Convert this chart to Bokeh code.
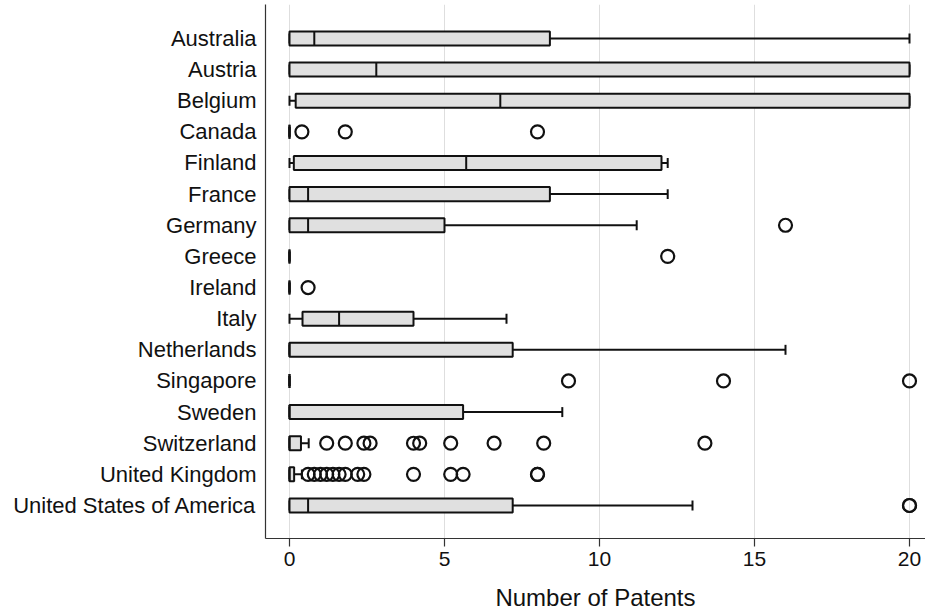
from bokeh.plotting import figure
from bokeh.models import Range1d, FixedTicker, ColumnDataSource
from bokeh.embed import file_html
from bokeh.resources import INLINE

countries = ["Australia", "Austria", "Belgium", "Canada", "Finland", "France",
             "Germany", "Greece", "Ireland", "Italy", "Netherlands", "Singapore",
             "Sweden", "Switzerland", "United Kingdom", "United States of America"]
q1 = [0, 0, 0.2, 0, 0.14, 0, 0, 0, 0, 0.42, 0, 0, 0, 0, 0, 0]
med = [0.8, 2.8, 6.8, 0, 5.7, 0.6, 0.6, 0, 0, 1.6, 0, 0, 0, 0, 0, 0.6]
q3 = [8.4, 20, 20, 0, 12, 8.4, 5, 0, 0, 4, 7.2, 0, 5.6, 0.37, 0.15, 7.2]
lo = [0, 0, 0, 0, 0, 0, 0, 0, 0, 0, 0, 0, 0, 0, 0, 0]
hi = [20, 20, 20, 0, 12.2, 12.2, 11.2, 0, 0, 7, 16, 0, 8.8, 0.62, 0.4, 13]

out_country = (["Canada"] * 3 + ["Germany"] + ["Greece"] + ["Ireland"] +
               ["Singapore"] * 3 + ["Switzerland"] * 10 + ["United Kingdom"] * 14 +
               ["United States of America"] * 2)
out_value = ([0.4, 1.8, 8.0] + [16] + [12.2] + [0.6] + [9, 14, 20] +
             [1.2, 1.8, 2.4, 2.6, 4.0, 4.2, 5.2, 6.6, 8.2, 13.4] +
             [0.6, 0.8, 1.0, 1.2, 1.4, 1.6, 1.8, 2.2, 2.4, 4.0, 5.2, 5.6, 8.0, 8.0] +
             [20, 20])

x_ticks = [0, 5, 10, 15, 20]

n = len(countries)
ypos = [n - i for i in range(n)]
ymap = dict(zip(countries, ypos))

FONT = "Liberation Sans"
INK = "#111111"

p = figure(width=925, height=616, output_backend="svg", toolbar_location=None,
           x_range=Range1d(-0.774, 20.516), y_range=Range1d(-0.06, 17.09),
           min_border_left=265, min_border_right=0, min_border_top=4,
           min_border_bottom=78)
p.outline_line_color = None
p.background_fill_color = "white"
p.border_fill_color = "white"

p.ygrid.grid_line_color = None
p.xgrid.grid_line_color = "#dedede"
p.xgrid.grid_line_width = 1
p.xaxis.ticker = FixedTicker(ticks=x_ticks)
p.yaxis.ticker = FixedTicker(ticks=ypos)
p.yaxis.major_label_overrides = {y: c for c, y in zip(countries, ypos)}

p.yaxis.minor_tick_line_color = None
p.yaxis.major_label_standoff = 3
p.xaxis.minor_tick_line_color = None
p.xaxis.major_tick_out = 8
p.xaxis.major_tick_in = 0
p.xaxis.major_label_standoff = 5
p.xaxis.axis_label = "Number of Patents"
p.xaxis.axis_label_standoff = 15
for ax in (p.xaxis, p.yaxis):
    ax.axis_line_color = "#333333"
    ax.axis_line_width = 1.2
    ax.major_tick_line_width = 1.2
    ax.major_label_text_font = FONT
    ax.major_label_text_color = INK
    ax.axis_label_text_font = FONT
    ax.axis_label_text_font_size = "24px"
    ax.axis_label_text_font_style = "normal"
    ax.axis_label_text_color = INK
p.xaxis.major_tick_line_color = "#333333"
p.yaxis.major_tick_line_color = None
p.yaxis.major_label_text_font_size = "22px"
p.xaxis.major_label_text_font_size = "21px"

src = ColumnDataSource(dict(y=ypos, q1=q1, med=med, q3=q3, lo=lo, hi=hi,
                            ytop=[y + 0.225 for y in ypos], ybot=[y - 0.225 for y in ypos],
                            ctop=[y + 0.16 for y in ypos], cbot=[y - 0.16 for y in ypos]))

# whiskers
p.segment(x0="q3", y0="y", x1="hi", y1="y", source=src, line_color=INK, line_width=2)
p.segment(x0="lo", y0="y", x1="q1", y1="y", source=src, line_color=INK, line_width=2)
p.segment(x0="hi", y0="ctop", x1="hi", y1="cbot", source=src, line_color=INK, line_width=2)
p.segment(x0="lo", y0="ctop", x1="lo", y1="cbot", source=src, line_color=INK, line_width=2)
# boxes
p.hbar(y="y", left="q1", right="q3", height=0.45, source=src,
       fill_color="#e0e0e0", line_color=INK, line_width=2)
# medians
p.segment(x0="med", y0="ytop", x1="med", y1="ybot", source=src, line_color=INK, line_width=2)

# outliers
osrc = ColumnDataSource(dict(x=out_value, y=[ymap[c] for c in out_country]))
p.scatter(x="x", y="y", source=osrc, marker="circle", size=13,
          fill_color=None, line_color=INK, line_width=2.2)

open("out.html", "w").write(file_html(p, INLINE))
